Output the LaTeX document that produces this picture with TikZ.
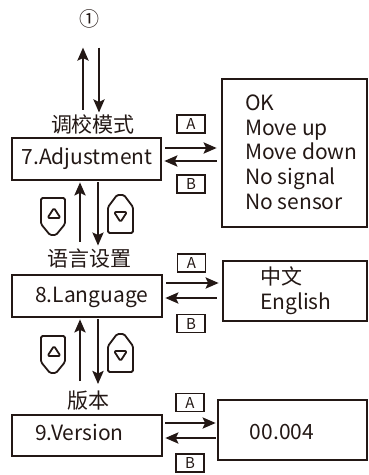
\documentclass[tikz,border=0pt]{standalone}
\usepackage{fontspec}
\setmainfont{Noto Sans CJK SC}
\usetikzlibrary{arrows.meta}
\definecolor{ink}{RGB}{35,24,21}
\begin{document}
\begin{tikzpicture}[x=1pt,y=-1pt,
  every node/.style={text=ink, inner sep=0pt},
  mainbox/.style={draw=ink, line width=2.6pt},
  lbl/.style={font=\fontsize{21}{24}\selectfont},
  boxtext/.style={font=\fontsize{21}{24}\selectfont},
  listtext/.style={font=\fontsize{21}{24.7}\selectfont, align=left},
  keybox/.style={draw=ink, line width=1.2pt, minimum width=28pt, minimum height=18pt, font=\fontsize{15}{15}\selectfont},
  arr/.style={draw=ink, line width=2.8pt, -{Stealth[length=13pt,width=11pt,inset=2.5pt]}},
  keyline/.style={draw=ink, line width=1.8pt, line join=round, rounded corners=1.5pt},
  upkey/.pic={
    \draw[keyline] (0,0) -- (24,0) -- (24,26) -- (15,37) -- (9,37) -- (0,26) -- cycle;
    \draw[keyline] (13,10) -- (19.5,20) -- (6.5,20) -- cycle;
  },
  downkey/.pic={
    \draw[keyline] (0,12) -- (9,0) -- (16,0) -- (25,12) -- (25,38) -- (0,38) -- cycle;
    \draw[keyline] (6,17) -- (19,17) -- (12.5,27) -- cycle;
  }
]
\useasboundingbox (0,0) rectangle (369,475);

% top marker
\node[font=\fontsize{20}{24}\selectfont] (one) at (89,19) {①};

% left column
\node[lbl] (t7) at (93,124.5) {调校模式};
\node[mainbox, minimum width=149pt, minimum height=42pt] (b7) at (86.5,159) {};
\node[boxtext] (b7t) at (87,159) {7.Adjustment};

\node[lbl] (t8) at (90,258.5) {语言设置};
\node[mainbox, minimum width=150pt, minimum height=42pt] (b8) at (87,296) {};
\node[boxtext, anchor=base west] (b8t) at (35,302) {8.Language};

\node[lbl] (t9) at (88,401) {版本};
\node[mainbox, minimum width=150pt, minimum height=41pt] (b9) at (87,435.5) {};
\node[boxtext, anchor=base west] (b9t) at (35,440) {9.Version};

% right column
\node[mainbox, minimum width=145pt, minimum height=148pt] (r1) at (294.5,153) {};
\node[listtext, anchor=west] (r1t) at (245,152) {OK\\Move up\\Move down\\No signal\\No sensor};

\node[mainbox, minimum width=144pt, minimum height=60pt] (r2) at (295,291) {};
\node[listtext, anchor=west] (r2t) at (260,291) {中文\\English};

\node[mainbox, minimum width=149pt, minimum height=60pt] (r3) at (292.5,430) {};
\node[boxtext] (r3t) at (282,432) {00.004};

% key labels
\node[keybox] (a1) at (191,124) {A};
\node[keybox] (k1) at (191,184) {B};
\node[keybox] (a2) at (191.5,263) {A};
\node[keybox] (k2) at (191,323.5) {B};
\node[keybox] (a3) at (190,402.5) {A};
\node[keybox] (k3) at (190,463) {B};

% vertical arrows
\draw[arr, shorten <=5pt, shorten >=19pt] (t7.north -| 83,0) -- (one.south -| 83,0);
\draw[arr, shorten <=19pt, shorten >=2pt] (one.south -| 99,0) -- (t7.north -| 99,0);

\draw[arr, shorten <=7pt, shorten >=1pt] (t8.north -| 80,0) -- (b7.south -| 80,0);
\draw[arr, shorten <=1pt, shorten >=3pt] (b7.south -| 98,0) -- (t8.north -| 98,0);

\draw[arr, shorten <=10pt, shorten >=1pt] (t9.north -| 80,0) -- (b8.south -| 80,0);
\draw[arr, shorten <=1pt, shorten >=7pt] (b8.south -| 98,0) -- (t9.north -| 98,0);

% horizontal arrows
\draw[arr, shorten <=3pt, shorten >=4pt] (b7.east |- 0,148) -- (r1.west |- 0,148);
\draw[arr, shorten <=4pt, shorten >=2pt] (r1.west |- 0,161) -- (b7.east |- 0,161);

\draw[arr, shorten <=3pt, shorten >=3pt] (b8.east |- 0,283) -- (r2.west |- 0,283);
\draw[arr, shorten <=5pt, shorten >=2pt] (r2.west |- 0,298) -- (b8.east |- 0,298);

\draw[arr, shorten <=2pt, shorten >=1pt] (b9.east |- 0,423) -- (r3.west |- 0,423);
\draw[arr, shorten <=1pt, shorten >=2pt] (r3.west |- 0,438) -- (b9.east |- 0,438);

% key icons
\pic at (41,198) {upkey};
\pic at (108,195) {downkey};
\pic at (41,336) {upkey};
\pic at (108,334) {downkey};
\end{tikzpicture}
\end{document}
